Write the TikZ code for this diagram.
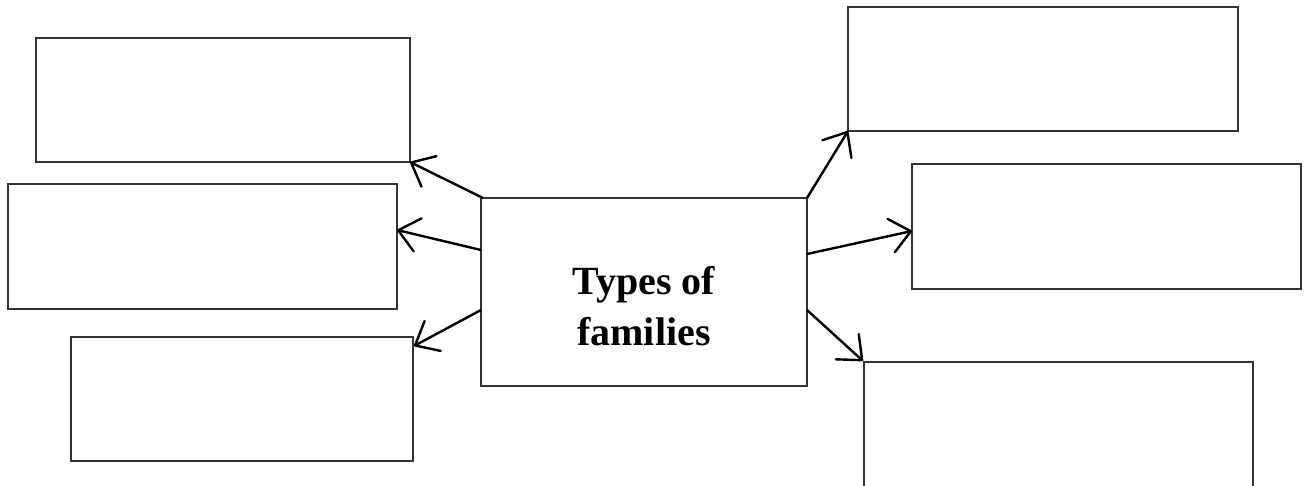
\documentclass[tikz,border=0pt]{standalone}
\usepackage{fontspec}
\setmainfont{Liberation Serif}
\usetikzlibrary{arrows.meta,calc}
\begin{document}
\begin{tikzpicture}[x=1pt,y=-1pt,
  box/.style={draw=black!80, line width=1.2pt, rectangle, inner sep=0pt, outer sep=0pt, anchor=north west},
  conn/.style={line width=2.4pt, -{Straight Barb[length=20pt,width=34pt,round]}}]
\useasboundingbox (0,0) rectangle (1306,485);
\clip (0,0) rectangle (1306,485);
\node[box, minimum width=374pt, minimum height=124pt] (tl) at (36,38) {};
\node[box, minimum width=389pt, minimum height=125pt] (ml) at (8,184) {};
\node[box, minimum width=342pt, minimum height=124pt] (bl) at (71,337) {};
\node[box, minimum width=326pt, minimum height=188pt] (c) at (481,198) {};
\node[box, minimum width=390pt, minimum height=124pt] (tr) at (848,7) {};
\node[box, minimum width=389pt, minimum height=125pt] (mr) at (912,164) {};
\node[box, minimum width=389pt, minimum height=140pt] (br) at (864,362) {};
\node[font=\bfseries\fontsize{40}{51}\selectfont, align=center] (t) at ($(c.center)+(0,14)$) {Types of\\families};
\coordinate (s2) at ($(c.north west)+(0,52)$);
\coordinate (s3) at ($(c.north west)+(0,112)$);
\coordinate (e2) at ($(ml.north east)+(0,46)$);
\coordinate (e3) at ($(bl.north west)+(343,9)$);
\coordinate (s5) at ($(c.north east)+(0,56)$);
\coordinate (s6) at ($(c.north east)+(0,112)$);
\coordinate (e5) at ($(mr.north west)+(0,67)$);
\coordinate (e6) at ($(br.north west)+(-1,-1)$);
\draw[conn] ($(c.north west)+(2,0)$) -- (tl.south east);
\draw[conn] (s2) -- (e2);
\draw[conn] (s3) -- (e3);
\draw[conn] (c.north east) -- (tr.south west);
\draw[conn] (s5) -- (e5);
\draw[conn] (s6) -- (e6);
\end{tikzpicture}
\end{document}
